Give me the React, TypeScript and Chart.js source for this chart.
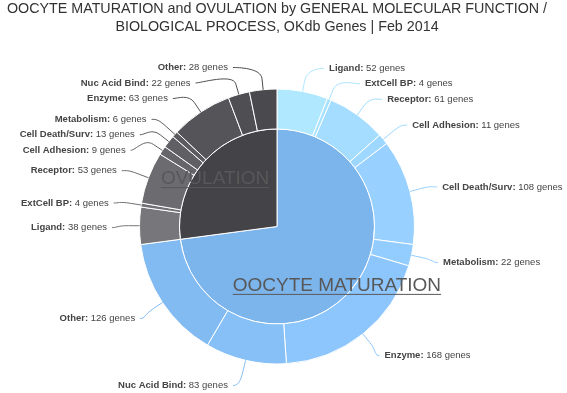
import React, { useEffect, useRef } from 'react';
import { Chart, registerables } from 'chart.js';

Chart.register(...registerables);

// ---------- data ----------
const TITLE_LINES = [
  'OOCYTE MATURATION and OVULATION by GENERAL MOLECULAR FUNCTION /',
  'BIOLOGICAL PROCESS, OKdb Genes | Feb 2014',
];
const PROCESSES = ['OOCYTE MATURATION', 'OVULATION'];
const FUNCTIONS = [
  'Ligand',
  'ExtCell BP',
  'Receptor',
  'Cell Adhesion',
  'Cell Death/Surv',
  'Metabolism',
  'Enzyme',
  'Nuc Acid Bind',
  'Other',
];
const OOCYTE_GENES = [52, 4, 61, 11, 108, 22, 168, 83, 126];
const OVULATION_GENES = [38, 4, 53, 9, 13, 6, 63, 22, 28];
const VALUE_SUFFIX = 'genes';

// ---------- style ----------
const BASE_COLORS = ['#7cb5ec', '#434348'];
const FONT = "'Liberation Sans', Arial, sans-serif";
const OUTER_RADIUS = 137.5;
const INNER_PIE_RADIUS = 97.5;
const LABEL_DIST_Y = 25.5;
const LABEL_DIST_X = 27.5;
const LABEL_SPACING = 15.5;
const LABEL_Y_SHIFT = 2;
const CONNECTOR_OFFSET = 11;

function brighten(hex: string, b: number): string {
  const n = parseInt(hex.slice(1), 16);
  const ch = [(n >> 16) & 255, (n >> 8) & 255, n & 255].map((c) =>
    Math.max(0, Math.min(255, Math.round(c + 255 * b)))
  );
  return `rgb(${ch[0]},${ch[1]},${ch[2]})`;
}

const GROUPS = [OOCYTE_GENES, OVULATION_GENES];
const innerValues = GROUPS.map((g) => g.reduce((a, b) => a + b, 0));
const outerValues: number[] = [];
const outerNames: string[] = [];
const outerColors: string[] = [];
GROUPS.forEach((g, gi) => {
  g.forEach((v, j) => {
    outerValues.push(v);
    outerNames.push(FUNCTIONS[j]);
    outerColors.push(brighten(BASE_COLORS[gi], 0.2 - j / g.length / 5));
  });
});

const donutLabels = {
  id: 'donutLabels',
  afterDatasetsDraw(chart: any) {
    const ctx: CanvasRenderingContext2D = chart.ctx;
    const outerMeta = chart.getDatasetMeta(0);
    const innerMeta = chart.getDatasetMeta(1);
    ctx.save();

    // ---- outer labels with connectors ----
    type Item = {
      i: number; mid: number; cx: number; cy: number; R: number;
      left: boolean; natural: number; y: number;
    };
    const items: Item[] = outerMeta.data.map((arc: any, i: number) => {
      const p = arc.getProps(['x', 'y', 'startAngle', 'endAngle', 'outerRadius'], true);
      const mid = (p.startAngle + p.endAngle) / 2;
      const natural = p.y + Math.sin(mid) * (p.outerRadius + LABEL_DIST_Y) + LABEL_Y_SHIFT;
      return { i, mid, cx: p.x, cy: p.y, R: p.outerRadius, left: Math.cos(mid) < 0, natural, y: natural };
    });
    if (!items.length) { ctx.restore(); return; }
    const cy = items[0].cy;
    const Ly = items[0].R + LABEL_DIST_Y;
    const top = cy - Ly + 4;
    const bottom = Math.min(cy + Ly - 4, chart.height - 7);
    [false, true].forEach((side) => {
      const g = items.filter((it) => it.left === side).sort((a, b) => a.natural - b.natural);
      let prev = -Infinity;
      g.forEach((it) => { it.y = Math.max(it.natural, prev + LABEL_SPACING, top); prev = it.y; });
      let next = Infinity;
      for (let k = g.length - 1; k >= 0; k--) {
        g[k].y = Math.min(g[k].y, next - LABEL_SPACING, bottom);
        next = g[k].y;
      }
    });

    const boldFont = `bold 9.5px ${FONT}`;
    const normFont = `9.5px ${FONT}`;
    items.forEach((it) => {
      const dir = it.left ? -1 : 1;
      const Lx = it.R + LABEL_DIST_X;
      const dy = Math.max(-Lx, Math.min(Lx, it.y - it.cy));
      const xc = it.cx + dir * Math.sqrt(Lx * Lx - dy * dy);
      const cos = Math.cos(it.mid), sin = Math.sin(it.mid);
      const E = [it.cx + cos * it.R, it.cy + sin * it.R];
      const B = [it.cx + cos * (it.R + CONNECTOR_OFFSET), it.cy + sin * (it.R + CONNECTOR_OFFSET)];
      const C2 = [2 * B[0] - E[0], 2 * B[1] - E[1]];
      ctx.beginPath();
      ctx.moveTo(xc, it.y);
      ctx.bezierCurveTo(xc - dir * 5, it.y, C2[0], C2[1], B[0], B[1]);
      ctx.lineTo(E[0], E[1]);
      ctx.strokeStyle = outerColors[it.i];
      ctx.lineWidth = 1;
      ctx.stroke();

      const name = outerNames[it.i] + ':';
      const rest = ` ${outerValues[it.i]} ${VALUE_SUFFIX}`;
      ctx.font = boldFont;
      const w1 = ctx.measureText(name).width;
      ctx.font = normFont;
      const w2 = ctx.measureText(rest).width;
      const x0 = it.left ? xc - 5 - (w1 + w2) : xc + 5;
      ctx.fillStyle = '#444444';
      ctx.textBaseline = 'middle';
      ctx.textAlign = 'left';
      ctx.font = boldFont;
      ctx.fillText(name, x0, it.y);
      ctx.font = normFont;
      ctx.fillText(rest, x0 + w1, it.y);
    });

    // ---- inner labels ----
    innerMeta.data.forEach((arc: any, i: number) => {
      const p = arc.getProps(['x', 'y', 'startAngle', 'endAngle', 'outerRadius'], true);
      const mid = (p.startAngle + p.endAngle) / 2;
      const r = p.outerRadius - 16.5;
      const x = p.x + Math.cos(mid) * r - 1;
      const y = p.y + Math.sin(mid) * r + 6;
      ctx.font = `19px ${FONT}`;
      ctx.fillStyle = '#585858';
      ctx.textAlign = 'center';
      ctx.textBaseline = 'middle';
      const text = PROCESSES[i];
      ctx.fillText(text, x, y);
      const w = ctx.measureText(text).width;
      ctx.beginPath();
      ctx.moveTo(x - w / 2, y + 8.5);
      ctx.lineTo(x + w / 2, y + 8.5);
      ctx.strokeStyle = '#585858';
      ctx.lineWidth = 1;
      ctx.stroke();
    });
    ctx.restore();
  },
};

export default function App() {
  const ref = useRef<HTMLCanvasElement | null>(null);
  useEffect(() => {
    if (!ref.current) return;
    const chart = new Chart(ref.current, {
      type: 'doughnut',
      data: {
        labels: outerNames,
        datasets: [
          {
            data: outerValues,
            backgroundColor: outerColors,
            borderColor: '#ffffff',
            borderWidth: 1,
            weight: OUTER_RADIUS - INNER_PIE_RADIUS,
          },
          {
            data: innerValues,
            backgroundColor: BASE_COLORS,
            borderColor: '#ffffff',
            borderWidth: 1,
            weight: INNER_PIE_RADIUS,
          },
        ],
      } as any,
      options: {
        responsive: false,
        animation: false,
        devicePixelRatio: 1,
        cutout: 0,
        radius: OUTER_RADIUS,
        layout: { padding: { left: 0, right: 13, top: 0, bottom: 0 } },
        plugins: {
          legend: { display: false },
          tooltip: { enabled: false },
          title: {
            display: true,
            text: TITLE_LINES,
            color: '#333333',
            font: { family: FONT, size: 14.3, weight: 'normal', lineHeight: 18 / 14.3 },
            padding: { top: 0, bottom: 24 },
          },
        },
      } as any,
      plugins: [donutLabels],
    });
    return () => chart.destroy();
  }, []);
  return (
    <div style={{ position: 'absolute', left: 0, top: 0, width: 567, height: 393, background: '#fff' }}>
      <canvas ref={ref} width={567} height={393} style={{ display: 'block' }} />
    </div>
  );
}
